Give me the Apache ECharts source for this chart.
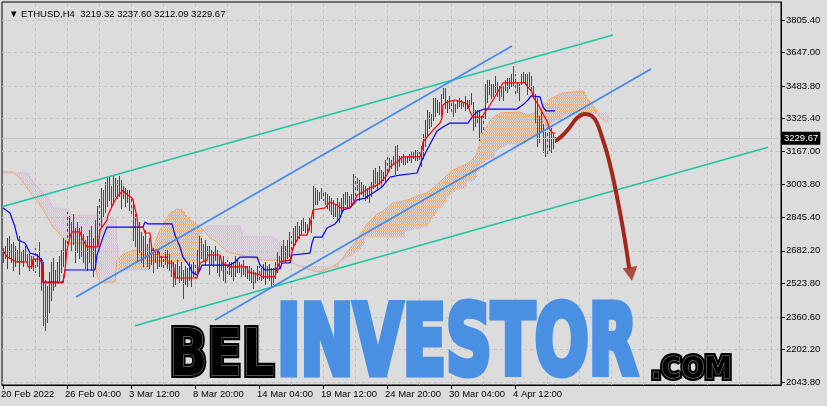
<!DOCTYPE html>
<html><head><meta charset="utf-8">
<script src="https://cdn.jsdelivr.net/npm/echarts@6.0.0/dist/echarts.min.js"></script>
<style>html,body{margin:0;padding:0;background:#dcdcdc;}#c{width:827px;height:406px;}</style>
</head><body><div id="c"></div>
<script>
// ---------- DATA ----------
const titleText = '\u25BC ETHUSD,H4  3219.32 3237.60 3212.09 3229.67';
const xTickBars = [0, 32, 64, 96, 128, 160, 192, 224, 256];
const xTickLabels = ['20 Feb 2022', '26 Feb 04:00', '3 Mar 12:00', '8 Mar 20:00', '14 Mar 04:00', '19 Mar 12:00', '24 Mar 20:00', '30 Mar 04:00', '4 Apr 12:00'];
const yTicks = [3805.40, 3647.00, 3483.80, 3325.40, 3167.00, 3003.80, 2845.40, 2682.20, 2523.80, 2360.60, 2202.20, 2043.80];
const lastPrice = 3229.67;

const barHigh = [
2696,2706,2745,2754,2715,2725,2706,2686,2754,2676,2686,2706,2667,2667,2657,2657,
2696,2667,2725,2647,2628,2540,2511,2579,2628,2647,2589,2628,2657,2686,2745,2735,
2871,2852,2822,2861,2793,2822,2793,2803,2764,2735,2754,2784,2803,2745,2832,2900,
2949,2988,2978,3017,3037,3046,2998,3046,3037,3027,3046,3027,2998,2988,2978,2978,
2949,2930,2861,2803,2822,2774,2754,2784,2715,2745,2706,2696,2686,2686,2676,2657,
2657,2686,2686,2667,2638,2628,2618,2638,2608,2628,2589,2608,2599,2628,2618,2628,
2618,2686,2754,2745,2715,2735,2706,2706,2686,2676,2706,2686,2657,2638,2657,2628,
2638,2628,2628,2628,2657,2638,2628,2618,2638,2608,2608,2608,2599,2589,2579,2608,
2608,2599,2618,2628,2608,2618,2599,2599,2628,2676,2657,2706,2735,2706,2735,2774,
2754,2793,2803,2822,2803,2832,2842,2822,2813,2842,2832,2998,2988,2978,2968,2988,
2978,2968,2959,2949,2939,2930,2910,2939,2920,2939,2959,2968,2968,2949,2959,3056,
3046,3037,3027,3017,3007,2998,2988,2998,3017,3076,3085,3066,3095,3076,3066,3124,
3144,3134,3124,3144,3192,3197,3144,3144,3153,3144,3144,3153,3163,3163,3173,3173,
3163,3192,3251,3319,3367,3358,3348,3426,3426,3416,3406,3445,3475,3475,3416,3436,
3416,3416,3397,3416,3426,3416,3406,3436,3416,3416,3450,3406,3367,3367,3367,3338,
3338,3494,3513,3513,3494,3494,3533,3504,3484,3484,3484,3513,3523,3523,3543,3582,
3543,3504,3494,3543,3552,3543,3543,3552,3533,3484,3445,3426,3338,3367,3299,3260,
3290,3260,3280,3251,3237.60];
const barLow = [
2628,2647,2599,2647,2628,2589,2608,2628,2569,2628,2608,2638,2618,2589,2599,2589,
2579,2608,2560,2492,2321,2297,2336,2385,2443,2492,2511,2531,2540,2579,2608,2628,
2686,2745,2686,2715,2628,2676,2647,2657,2628,2599,2589,2628,2589,2560,2628,2706,
2745,2803,2852,2871,2900,2930,2900,2910,2949,2939,2949,2891,2939,2900,2920,2881,
2852,2735,2706,2638,2676,2628,2608,2647,2608,2599,2618,2579,2628,2599,2608,2608,
2599,2618,2599,2589,2560,2511,2521,2550,2531,2540,2453,2521,2511,2540,2511,2560,
2550,2560,2589,2647,2638,2618,2657,2569,2618,2608,2638,2579,2560,2589,2540,2531,
2560,2569,2560,2540,2560,2579,2579,2560,2569,2560,2550,2540,2531,2501,2531,2540,
2531,2540,2550,2521,2550,2540,2511,2521,2550,2579,2599,2618,2638,2628,2647,2657,
2667,2696,2715,2735,2745,2764,2784,2774,2764,2784,2774,2842,2910,2910,2930,2939,
2930,2910,2891,2881,2861,2842,2852,2832,2822,2861,2881,2910,2891,2900,2900,2930,
2949,2978,2930,2959,2949,2930,2939,2920,2949,2988,2998,2978,3007,2998,3027,3017,
3066,3076,3085,3105,3056,3076,3095,3114,3105,3105,3114,3124,3114,3134,3124,3124,
3114,3095,3134,3192,3241,3280,3290,3319,3338,3358,3348,3338,3426,3377,3358,3377,
3348,3338,3358,3377,3387,3377,3387,3367,3377,3387,3397,3270,3290,3309,3221,3260,
3270,3329,3406,3445,3426,3436,3455,3436,3416,3436,3416,3465,3455,3475,3484,3484,
3436,3455,3416,3494,3504,3494,3445,3484,3465,3426,3309,3192,3212,3260,3163,3144,
3144,3173,3163,3183,3212.09];
// d = bullish bar, r = bearish bar
const barDir =
'rrddrrdrdrddrrrd' + 'drrrrrddddrddddd' + 'ddrddrdrdrdrrddd' + 'ddrdrdrddrddrdrd' +
'rrrdrddrdrdrddrd' + 'drdrrrrdrdrddddd' + 'dddrrdrrrddddrdr' + 'dddrdddrdrdrrrdd' +
'drddrdrrddddrddd' + 'rddrddrdrdrddddr' + 'drrdrrdrrddddrrd' + 'drrrdrdrdddddrdd' +
'dddrdrdrdrddrddr' + 'rrddddrdddrrdrdd' + 'rrrddrrddrdrrddd' + 'rddddrdrrrdddddr' +
'rrdrddrrrrrrrrrd' + 'rdrdd';

// Ichimoku lines: [bar index, price]
const tenkan = [[0,2686],[2,2652],[7,2628],[12,2628],[12.5,2604],[14.5,2604],[15,2642],[18.5,2642],[19.5,2613],[20,2526],[30,2526],[31,2589],[32,2686],[33.5,2750],[34.5,2774],[38.5,2774],[39.5,2745],[42,2701],[47.5,2701],[48.5,2783],[52,2832],[52.5,2856],[56,2929],[57,2944],[60,2978],[61,2964],[64.5,2939],[65,2929],[67,2847],[67.5,2798],[70,2798],[71,2769],[73.5,2769],[74.5,2686],[77.5,2686],[78.5,2652],[82,2652],[82.5,2623],[85,2623],[86,2550],[97,2550],[98.5,2623],[102,2637],[102.5,2662],[108.5,2662],[109.5,2623],[113.5,2604],[122,2604],[122.5,2579],[128.5,2565],[129.5,2555],[136,2555],[137,2599],[138.5,2628],[139.5,2637],[143.5,2637],[145,2696],[147,2735],[148.5,2759],[152,2759],[153.5,2808],[155,2881],[161,2891],[163.5,2920],[167,2905],[168.5,2891],[173.5,2891],[176,2929],[177,2954],[180,2968],[183.5,2988],[187,3002],[190,3027],[192,3051],[193.5,3090],[197,3114],[198.5,3129],[200,3139],[208.5,3139],[209.5,3173],[210,3212],[212,3236],[215,3270],[218.5,3304],[219.5,3329],[220,3392],[222,3406],[226,3416],[231,3402],[232.5,3392],[233.5,3358],[235,3333],[239.5,3333],[241,3358],[242.5,3377],[245,3416],[247,3450],[248.5,3474],[250,3499],[261,3499],[262.5,3479],[264.5,3455],[265,3431],[267,3402],[268.5,3377],[270,3348],[272,3314],[273.5,3270],[275,3255],[276,3255]];
const kijun = [[0,2891],[3.5,2866],[6,2798],[7.5,2735],[11,2720],[13.5,2671],[17,2662],[18.5,2647],[19.5,2637],[20,2530],[30,2530],[31,2589],[46,2589],[47,2662],[50,2749],[52,2798],[70,2798],[71,2822],[72.5,2813],[84.5,2813],[86,2759],[88.5,2701],[90,2652],[93.5,2604],[94.5,2579],[97,2564],[98.5,2589],[99.5,2613],[113.5,2613],[116,2628],[118.5,2652],[127,2652],[128.5,2613],[131,2589],[138.5,2594],[139.5,2623],[143.5,2623],[144.5,2662],[153.5,2671],[154.5,2720],[155.5,2749],[159.5,2749],[162,2793],[166,2813],[168.5,2842],[170,2881],[173.5,2891],[177,2930],[181,2939],[185,2964],[189.5,2993],[193.5,3041],[198.5,3051],[207,3061],[209.5,3124],[212,3173],[217,3265],[220,3285],[223.5,3304],[232.5,3304],[234.5,3333],[237,3358],[240.5,3372],[257,3372],[260.5,3397],[262.5,3416],[264,3436],[268.5,3431],[270,3382],[271.5,3363],[276,3363]];
const spanA = [[0,3066],[4.5,3066],[8.5,3037],[13.5,2968],[17.5,2920],[20,2881],[22.5,2842],[25,2798],[27.5,2774],[30,2745],[32.5,2720],[38.5,2720],[41,2710],[46,2652],[47,2565],[48.5,2530],[56,2530],[57,2637],[59.5,2662],[62,2676],[66,2686],[68.5,2676],[72.5,2652],[75,2686],[77,2749],[78.5,2783],[82,2842],[83.5,2866],[87,2886],[89.5,2881],[91,2856],[93.5,2832],[96,2818],[98.5,2798],[101,2774],[103.5,2745],[107,2725],[110,2696],[113.5,2672],[118.5,2662],[123.5,2652],[130,2637],[138.5,2637],[143.5,2628],[148.5,2608],[153.5,2589],[158.5,2579],[163.5,2599],[168.5,2628],[173.5,2696],[177,2735],[180,2783],[182,2813],[187,2861],[190,2876],[195,2915],[202,2929],[207,2949],[212,2964],[215,2988],[218.5,3017],[222,3051],[225,3075],[228.5,3090],[232,3105],[235,3129],[237,3158],[240,3260],[243.5,3314],[246,3338],[248.5,3353],[258.5,3358],[262,3343],[266,3353],[270,3387],[273.5,3421],[280,3450],[290,3460],[292,3421],[294,3406],[298,3338],[302,3309]];
const spanB = [[0,3061],[12,3061],[14.5,3027],[18.5,2978],[22,2944],[25,2891],[28.5,2891],[32,2881],[34.5,2856],[47,2856],[48,2837],[56.5,2837],[57.5,2589],[72.5,2589],[73.5,2628],[96.5,2628],[97.5,2686],[98.5,2735],[100,2783],[101.5,2803],[118.5,2803],[119.5,2750],[135,2750],[136.5,2735],[139,2715],[141,2701],[143,2657],[144,2637],[146,2618],[148,2608],[167,2603],[168,2628],[175,2667],[180,2710],[181,2750],[200,2750],[201,2779],[212,2803],[214,2837],[217,2876],[220,2900],[222,2944],[226,2978],[231,2988],[232,3022],[235,3022],[236,3036],[237,3071],[238,3095],[241,3124],[245,3134],[246,3168],[248,3182],[251,3192],[252,3202],[260,3202],[261,3212],[264,3226],[266,3246],[269,3265],[273,3294],[276,3319],[279,3319],[280,3343],[302,3353]];

// Drawn objects: [bar index, price]
const channelGreenUpper = [[-0.5,2896.9],[305,3732.4]];
const channelGreenLower = [[66,2317.8],[382.5,3186.4]];
const channelBlueUpper = [[36.5,2457.5],[254.5,3678.9]];
const channelBlueLower = [[106,2345.6],[324,3566.9]];
const arrowPath = [[277,3221.5],[280,3245.8],[283.5,3284.7],[287,3328.5],[291,3348.0],[294.5,3338.2],[297,3304.2],[299.5,3236.0],[302,3158.2],[304.5,3060.9],[307,2944.1],[309.5,2817.6],[311.5,2700.9],[313,2603.5]];
const arrowHead = [[314,2569]];

// ---------- STYLE ----------
const BG = '#dcdcdc', GRIDC = '#c3c3c3';
const UP = '#2f4f4f', DN = '#ff0000';
const ORANGE = '#f4a460', THISTLE = '#d8bfd8';
const FONT = 'Liberation Sans';
const vGrid = [];
for (let k = 16; k <= 384; k += 16) vGrid.push(k);

const chart = echarts.init(document.getElementById('c'), null, {renderer: 'canvas'});

function colX(x) { return Math.floor(x + 0.001) + 0.5; }
function interpAt(pts, x) {
  if (x < pts[0][0] - 0.01 || x > pts[pts.length - 1][0] + 0.01) return null;
  for (let k = 1; k < pts.length; k++) {
    if (x <= pts[k][0] + 0.0001) {
      const x0 = pts[k-1][0], y0 = pts[k-1][1], x1 = pts[k][0], y1 = pts[k][1];
      return x1 === x0 ? y1 : y0 + (y1 - y0) * (x - x0) / (x1 - x0);
    }
  }
  return pts[pts.length - 1][1];
}

const barData = barHigh.map((h, i) => [i, barLow[i], h, barDir[i] === 'd' ? 1 : 0]);
const lastCloudBar = Math.round(spanA[spanA.length - 1][0]);

const option = {
  animation: false,
  backgroundColor: BG,
  textStyle: {fontFamily: FONT},
  title: {
    text: titleText, left: 4, top: 4,
    textStyle: {fontFamily: FONT, fontSize: 9.5, fontWeight: 'normal', color: '#000'}
  },
  grid: {left: 2, right: 46, top: 2, bottom: 21, show: true, borderColor: '#000', borderWidth: 1,
         backgroundColor: BG, containLabel: false, outerBoundsMode: 'none'},
  xAxis: {
    type: 'value', min: -0.5, max: 389, scale: true,
    axisLine: {show: true, onZero: false, lineStyle: {color: '#000', width: 1}},
    axisTick: {show: true, customValues: xTickBars, length: 4, lineStyle: {color: '#000'}},
    axisLabel: {show: true, customValues: xTickBars, align: 'left', margin: 4, color: '#000',
      fontFamily: FONT, fontSize: 9.5, padding: [0, 0, 0, -2],
      formatter: v => { const k = xTickBars.indexOf(Math.round(v)); return k >= 0 ? xTickLabels[k] : ''; }},
    splitLine: {show: false}
  },
  yAxis: {
    type: 'value', position: 'right', min: 2029.3, max: 3893.0, scale: true,
    axisLine: {show: true, onZero: false, lineStyle: {color: '#000', width: 1}},
    axisTick: {show: true, customValues: yTicks, length: 4, lineStyle: {color: '#000'}},
    axisLabel: {show: true, customValues: yTicks, margin: 5, color: '#000', fontFamily: FONT, fontSize: 9.5,
      formatter: v => v.toFixed(2)},
    splitLine: {show: false}
  },
  series: [
    { // grid lines
      type: 'line', data: [], silent: true, z: 0,
      markLine: {silent: true, symbol: 'none', animation: false, label: {show: false},
        lineStyle: {color: GRIDC, type: [3, 3], width: 1},
        data: yTicks.map(v => ({yAxis: v})).concat(vGrid.map(v => ({xAxis: v})))}
    },
    { // last price line
      type: 'line', data: [], silent: true, z: 1,
      markLine: {silent: true, symbol: 'none', animation: false,
        lineStyle: {color: '#c4c4c4', type: 'solid', width: 1},
        label: {show: true, position: 'end', distance: 1, formatter: lastPrice.toFixed(2),
          backgroundColor: '#000', color: '#fff', fontFamily: FONT, fontSize: 9.5, padding: [2, 2, 1, 2]},
        data: [{yAxis: lastPrice}]}
    },
    { // cloud hatch between span A and span B (dotted brick pattern)
      type: 'custom', silent: true, z: 2, data: [[0, 3000]], encode: {x: 0, y: 1},
      renderItem: (params, api) => {
        const pa = spanA.map(d => api.coord(d));
        const pb = spanB.map(d => api.coord(d));
        let pathO = '', pathT = '';
        for (let i = 0; i <= lastCloudBar; i++) {
          const x = api.coord([i, 3000])[0];
          const ya = interpAt(pa, x), yb = interpAt(pb, x);
          if (ya == null || yb == null) continue;
          const top = Math.round(Math.min(ya, yb)), bot = Math.round(Math.max(ya, yb));
          if (bot - top < 1) continue;
          const xl = Math.floor(x + 0.001);
          let s = '';
          for (let yy = top - (top % 3); yy < bot; yy += 3) {
            let a = Math.max(yy, top), b = Math.min(yy + 2, bot);
            if (b > a) s += 'M' + xl + ' ' + a + 'h1v' + (b - a) + 'h-1Z';
            a = Math.max(yy + 2, top); b = Math.min(yy + 3, bot);
            if (b > a) s += 'M' + (xl + 1) + ' ' + a + 'h1v' + (b - a) + 'h-1Z';
          }
          if (ya < yb) pathO += s; else pathT += s;
        }
        return {type: 'group', children: [
          {type: 'path', shape: {pathData: pathO || 'M0 0'}, style: {fill: ORANGE, stroke: null}},
          {type: 'path', shape: {pathData: pathT || 'M0 0'}, style: {fill: THISTLE, stroke: null}}
        ]};
      }
    },
    {type: 'line', data: spanA, symbol: 'none', silent: true, z: 3, lineStyle: {color: ORANGE, width: 1}},
    {type: 'line', data: spanB, symbol: 'none', silent: true, z: 3, lineStyle: {color: THISTLE, width: 1}},
    { // OHLC bars
      type: 'custom', silent: true, z: 4, data: barData, encode: {x: 0, y: [1, 2]},
      renderItem: (params, api) => {
        const i = api.value(0);
        const lo = api.coord([i, api.value(1)]);
        const hi = api.coord([i, api.value(2)]);
        const x = colX(lo[0]);
        return {type: 'line', shape: {x1: x, y1: Math.round(hi[1]), x2: x, y2: Math.round(lo[1]) + 1},
          style: {stroke: api.value(3) ? UP : DN, lineWidth: 1}};
      }
    },
    {type: 'line', data: kijun, symbol: 'none', silent: true, z: 5, lineStyle: {color: '#0000ff', width: 1.2}},
    {type: 'line', data: tenkan, symbol: 'none', silent: true, z: 5, lineStyle: {color: '#ff0000', width: 1.2}},
    {type: 'line', data: channelGreenUpper, symbol: 'none', silent: true, z: 6, lineStyle: {color: '#22c4a0', width: 1.6}},
    {type: 'line', data: channelGreenLower, symbol: 'none', silent: true, z: 6, lineStyle: {color: '#22c4a0', width: 1.6}},
    {type: 'line', data: channelBlueUpper, symbol: 'none', silent: true, z: 6, lineStyle: {color: '#4189f2', width: 1.6}},
    {type: 'line', data: channelBlueLower, symbol: 'none', silent: true, z: 6, lineStyle: {color: '#4189f2', width: 1.6}},
    {type: 'line', data: arrowPath, symbol: 'none', smooth: 0.4, silent: true, z: 7,
      lineStyle: {color: '#a3281c', width: 4, cap: 'round', join: 'round'}},
    {type: 'scatter', data: arrowHead, symbol: 'triangle', symbolSize: [15, 14], symbolRotate: 188, silent: true, z: 7,
      itemStyle: {color: '#a3281c'}}
  ],
  graphic: [
    {type: 'text', x: 169, y: 358, scaleX: 0.79, z: 100, silent: true,
      style: {text: 'BEL', font: 'bold 64px "DejaVu Sans"', fill: '#000', stroke: '#000', lineWidth: 6,
        textVerticalAlign: 'middle', textAlign: 'left', shadowBlur: 6, shadowColor: 'rgba(0,0,0,0.35)'}},
    {type: 'text', x: 169, y: 358, scaleX: 0.79, z: 101, silent: true,
      style: {text: 'BEL', font: 'bold 64px "DejaVu Sans"', fill: '#000', stroke: '#9a9a9a', lineWidth: 1,
        textVerticalAlign: 'middle', textAlign: 'left'}},
    {type: 'text', x: 277, y: 349, scaleX: 0.66, z: 100, silent: true,
      style: {text: 'INVESTOR', font: 'bold 96px "DejaVu Sans"', fill: '#4a90e2', stroke: '#4a90e2', lineWidth: 7,
        textVerticalAlign: 'middle', textAlign: 'left', shadowBlur: 5, shadowColor: 'rgba(0,0,0,0.3)'}},
    {type: 'text', x: 651, y: 370, scaleX: 0.88, z: 100, silent: true,
      style: {text: '.COM', font: 'bold 31px "DejaVu Sans"', fill: '#000', stroke: '#000', lineWidth: 6,
        textVerticalAlign: 'middle', textAlign: 'left', shadowBlur: 5, shadowColor: 'rgba(0,0,0,0.35)'}},
    {type: 'text', x: 651, y: 370, scaleX: 0.88, z: 101, silent: true,
      style: {text: '.COM', font: 'bold 31px "DejaVu Sans"', fill: '#000', stroke: '#9a9a9a', lineWidth: 1,
        textVerticalAlign: 'middle', textAlign: 'left'}}
  ]
};
chart.setOption(option);
</script>
</body></html>
